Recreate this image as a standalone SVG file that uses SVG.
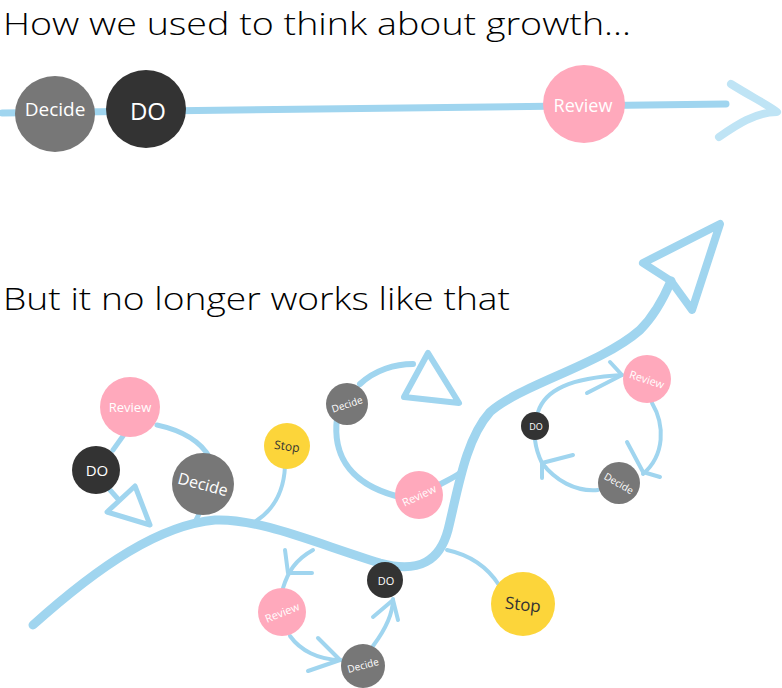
<svg xmlns="http://www.w3.org/2000/svg" width="782" height="688" viewBox="0 0 782 688">
<style>
.ln{fill:none;stroke:#a0d5ef;stroke-linecap:round;stroke-linejoin:round}
.t{font-family:"Open Sans","Liberation Sans",sans-serif;text-anchor:middle;dominant-baseline:central}
.w{fill:#fff}
.k{fill:#333}
.h{font-family:"Open Sans","Liberation Sans",sans-serif;font-weight:300;fill:#000}
.pink{fill:#ffa9bc}.dark{fill:#333}.grey{fill:#777}.yel{fill:#fcd53a}
</style>
<rect width="782" height="688" fill="#fff"/>
<text class="h" x="3" y="35" font-size="31" textLength="628" lengthAdjust="spacingAndGlyphs">How we used to think about growth...</text>
<text class="h" x="3" y="310" font-size="32" textLength="507" lengthAdjust="spacingAndGlyphs">But it no longer works like that</text>
<g id="connectors">
<path class="ln" stroke-width="7" d="M2,113 C200,111 400,108 726,104"/>
<path class="ln" style="stroke:#bfe4f5" stroke-width="8" d="M731,84 C750,96 770,106 777,112 C755,112 735,126 719,137"/>
<path class="ln" stroke-width="9" d="M33,625 C100,565 160,525 215,520 C260,518 320,545 380,563 C420,574 440,560 448,530 C458,490 465,440 490,412 C520,385 600,365 640,330 C655,315 665,295 671,281"/>
<path class="ln" stroke-width="8" d="M671,281 L643,263 L720,224 L692,310 Z"/>
<path class="ln" stroke-width="5" d="M157,425 C180,430 200,440 210,458"/>
<path class="ln" stroke-width="5" d="M123,436 L113,450"/>
<path class="ln" stroke-width="5" d="M110,490 L118,499"/>
<path class="ln" stroke-width="5" d="M107,512 L135,486 L150,525 Z"/>
<path class="ln" stroke-width="5" d="M200,512 L196,520"/>
<path class="ln" stroke-width="4" d="M285,466 C284,490 275,510 253,523"/>
<path class="ln" stroke-width="6" d="M360,384 C375,370 395,364 413,364"/>
<path class="ln" stroke-width="6" d="M428,353 L459,403 L404,397 Z"/>
<path class="ln" stroke-width="6" d="M337,418 C333,450 345,482 396,496"/>
<path class="ln" stroke-width="6" d="M437,486 C448,480 455,477 460,473"/>
<path class="ln" stroke-width="4" d="M538,412 C545,390 570,378 622,375"/>
<path class="ln" stroke-width="4" d="M610,362 L622,375 L587,393"/>
<path class="ln" stroke-width="4" d="M652,403 C665,425 665,455 643,474"/>
<path class="ln" stroke-width="4" d="M627,442 L643,472 L660,477"/>
<path class="ln" stroke-width="4" d="M598,490 C575,492 555,480 542,463 C538,455 536,448 535,440"/>
<path class="ln" stroke-width="4" d="M542,478 L542,463 L573,455"/>
<path class="ln" stroke-width="4" d="M313,550 C295,560 288,572 283,588"/>
<path class="ln" stroke-width="4" d="M285,550 L288,573 L312,573"/>
<path class="ln" stroke-width="4" d="M290,636 C300,650 318,660 341,660"/>
<path class="ln" stroke-width="4" d="M318,638 L340,660 L308,671"/>
<path class="ln" stroke-width="4" d="M373,646 C385,630 393,615 393,599"/>
<path class="ln" stroke-width="4" d="M373,617 L393,600 L398,620"/>
<path class="ln" stroke-width="4" d="M447,550 C470,555 488,568 499,585"/>
</g>
<g id="top-decide"><ellipse class="grey" cx="55" cy="114" rx="40" ry="38"/><text class="t w" x="55" y="109" font-size="19">Decide</text></g>
<g id="top-do"><ellipse class="dark" cx="146" cy="109" rx="40" ry="39"/><text class="t w" x="148" y="110" font-size="24">DO</text></g>
<g id="top-review"><ellipse class="pink" cx="584" cy="104" rx="41" ry="39"/><text class="t w" x="583" y="105" font-size="18">Review</text></g>
<g id="a-review"><circle class="pink" cx="130" cy="407" r="30"/><text class="t w" x="130" y="407" font-size="13">Review</text></g>
<g id="a-do"><circle class="dark" cx="96" cy="470" r="24"/><text class="t w" x="97" y="470" font-size="15">DO</text></g>
<g id="a-decide"><circle class="grey" cx="203" cy="484" r="31"/><text class="t w" x="203" y="484" font-size="16" transform="rotate(15 203 484)">Decide</text></g>
<g id="a-stop"><circle class="yel" cx="287" cy="446" r="23"/><text class="t k" x="287" y="446" font-size="12" transform="rotate(8 287 446)">Stop</text></g>
<g id="b-decide"><circle class="grey" cx="347" cy="404" r="21"/><text class="t w" x="347" y="404" font-size="10" transform="rotate(-18 347 404)">Decide</text></g>
<g id="b-review"><circle class="pink" cx="419" cy="495" r="24"/><text class="t w" x="419" y="495" font-size="11" transform="rotate(-25 419 495)">Review</text></g>
<g id="c-review"><circle class="pink" cx="647" cy="379" r="24"/><text class="t w" x="647" y="379" font-size="11" transform="rotate(18 647 379)">Review</text></g>
<g id="c-do"><circle class="dark" cx="535" cy="426" r="14"/><text class="t w" x="536" y="426" font-size="9">DO</text></g>
<g id="c-decide"><circle class="grey" cx="619" cy="483" r="21"/><text class="t w" x="619" y="483" font-size="10" transform="rotate(30 619 483)">Decide</text></g>
<g id="d-do"><circle class="dark" cx="385" cy="580" r="18"/><text class="t w" x="386" y="580" font-size="11">DO</text></g>
<g id="d-stop"><circle class="yel" cx="523" cy="604" r="32"/><text class="t k" x="523" y="604" font-size="17" transform="rotate(6 523 604)">Stop</text></g>
<g id="d-review"><circle class="pink" cx="282" cy="612" r="24"/><text class="t w" x="282" y="612" font-size="11" transform="rotate(-22 282 612)">Review</text></g>
<g id="d-decide"><circle class="grey" cx="363" cy="666" r="22"/><text class="t w" x="363" y="665" font-size="10" transform="rotate(-15 363 665)">Decide</text></g>
</svg>
